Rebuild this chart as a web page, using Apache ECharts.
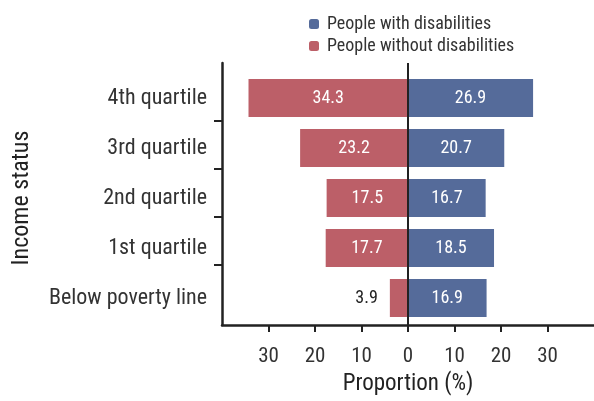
<!DOCTYPE html>
<html>
<head>
<meta charset="utf-8">
<script src="https://cdn.jsdelivr.net/npm/echarts@6/dist/echarts.min.js"></script>
<style>html,body{margin:0;padding:0;background:#fff}#c{width:594px;height:401px}</style>
</head>
<body>
<div id="c"></div>
<script>
const categories = ['4th quartile', '3rd quartile', '2nd quartile', '1st quartile', 'Below poverty line'];
const withDisabilities = [26.9, 20.7, 16.7, 18.5, 16.9];
const withoutDisabilities = [34.3, 23.2, 17.5, 17.7, 3.9];
const xTicks = [-30, -20, -10, 0, 10, 20, 30];
const yBoundaryTicks = [0.5, 1.5, 2.5, 3.5];

const FONT = "'Liberation Sans Narrow', 'Roboto Condensed', 'DejaVu Sans Condensed', sans-serif";
const BLUE = '#556b9a';
const RED = '#bc5f68';
const INK = '#222';

const chart = echarts.init(document.getElementById('c'), null, {renderer: 'canvas'});
chart.setOption({
  animation: false,
  textStyle: {fontFamily: FONT},
  legend: {
    orient: 'vertical', left: 304, top: 10,
    itemWidth: 10, itemHeight: 10, itemGap: 4,
    textStyle: {fontFamily: FONT, fontSize: 18, color: '#333', padding: [0, 0, 0, 3]},
    data: ['People with disabilities', 'People without disabilities']
  },
  grid: [
    {left: 222, right: 0, top: 73, height: 250},
    {left: 222, right: 0, top: 63, height: 273}
  ],
  xAxis: [
    {gridIndex: 0, type: 'value', min: -40, max: 40, show: false},
    {gridIndex: 1, type: 'value', min: -40, max: 40,
      name: 'Proportion (%)', nameLocation: 'middle', nameGap: 48, nameMoveOverlap: false,
      nameTextStyle: {fontFamily: FONT, fontSize: 23, color: INK},
      axisLine: {onZero: false, lineStyle: {color: INK, width: 2.5}},
      axisTick: {show: true, length: 7, customValues: xTicks, lineStyle: {color: INK, width: 2}},
      axisLabel: {customValues: xTicks, margin: 21, fontFamily: FONT, fontSize: 21, color: '#333',
        formatter: v => String(Math.abs(v))},
      splitLine: {show: false}
    }
  ],
  yAxis: [
    {gridIndex: 0, type: 'category', inverse: true, data: categories,
      name: 'Income status', nameLocation: 'middle', nameGap: 188, nameMoveOverlap: false,
      nameTextStyle: {fontFamily: FONT, fontSize: 24, color: INK},
      axisLine: {show: false}, axisTick: {show: false},
      axisLabel: {margin: 15, fontFamily: FONT, fontSize: 22, color: '#333'}
    },
    {gridIndex: 1, type: 'value', inverse: true, min: -0.7, max: 4.76,
      axisLine: {show: true, onZero: false, lineStyle: {color: INK, width: 2.5}},
      axisTick: {show: true, length: 8, customValues: yBoundaryTicks, lineStyle: {color: INK, width: 2}},
      axisLabel: {show: false}, splitLine: {show: false}
    }
  ],
  series: [
    {
      name: 'People without disabilities', type: 'bar', stack: 'a',
      xAxisIndex: 0, yAxisIndex: 0, barWidth: 38,
      itemStyle: {color: RED},
      label: {show: true, position: 'inside', color: '#fff', fontFamily: FONT, fontSize: 18,
        formatter: p => Math.abs(p.value).toFixed(1)},
      data: withoutDisabilities.map((v, i) => i === 4
        ? {value: -v, label: {position: 'left', color: INK, distance: 12}}
        : -v)
    },
    {
      name: 'People with disabilities', type: 'bar', stack: 'a',
      xAxisIndex: 0, yAxisIndex: 0, barWidth: 38,
      itemStyle: {color: BLUE},
      label: {show: true, position: 'inside', color: '#fff', fontFamily: FONT, fontSize: 18,
        formatter: p => Math.abs(p.value).toFixed(1)},
      data: withDisabilities
    },
    {
      type: 'line', xAxisIndex: 1, yAxisIndex: 1, data: [], silent: true,
      markLine: {silent: true, symbol: 'none', label: {show: false},
        lineStyle: {color: INK, width: 2, type: 'solid'},
        data: [{xAxis: 0}]}
    }
  ]
});
</script>
</body>
</html>
